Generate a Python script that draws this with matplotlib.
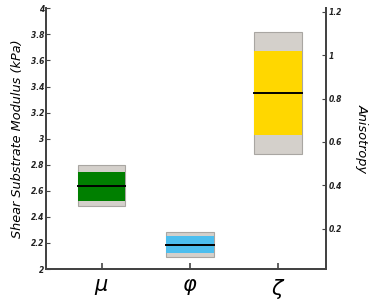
''' box-range chart: shear substrate modulus and anisotropy
'''
import matplotlib
import matplotlib.pyplot as plt
import matplotlib.ticker as mtick

matplotlib.use('Agg')

# categories and summary values (outer range, inner range, median)
labels = ['$\\mu$', '$\\varphi$', '$\\zeta$']
positions = [1, 2, 3]
outer_low = [2.48, 2.09, 0.543]
outer_high = [2.80, 2.283, 1.109]
inner_low = [2.525, 2.121, 0.631]
inner_high = [2.744, 2.252, 1.021]
medians = [2.636, 2.185, 0.826]
on_right = [False, False, True]
colors = ['#007f00', '#4dbeee', '#ffd700']

left_ticks = [2, 2.2, 2.4, 2.6, 2.8, 3, 3.2, 3.4, 3.6, 3.8, 4]
right_ticks = [0.2, 0.4, 0.6, 0.8, 1, 1.2]

BOX_WIDTH = 0.54
GREY = '#d4d0cb'
SPINE = '#444444'

fig = plt.figure(figsize=(3.81, 3.03), dpi=100)
ax = fig.add_axes([0.1207, 0.1122, 0.735, 0.8604])
ax2 = ax.twinx()

for pos, lo, hi, ilo, ihi, med, right, col in zip(
        positions, outer_low, outer_high, inner_low, inner_high,
        medians, on_right, colors):
    target = ax2 if right else ax
    target.bar(pos, hi - lo, BOX_WIDTH, bottom=lo, color=GREY,
               edgecolor='#a9a6a2', linewidth=0.8, zorder=2)
    target.bar(pos, ihi - ilo, BOX_WIDTH, bottom=ilo, color=col,
               edgecolor='none', linewidth=0, zorder=3)
    target.plot([pos - BOX_WIDTH / 2, pos + BOX_WIDTH / 2], [med, med],
                color='black', linewidth=1.4, zorder=4)

ax.set_xlim(0.37, 3.54)
ax.set_ylim(2, 4)
ax2.set_ylim(0.014, 1.216)

ax.set_xticks(positions)
ax.set_xticklabels(labels, fontsize=15)
ax.set_yticks(left_ticks)
ax.yaxis.set_major_formatter(mtick.FuncFormatter(lambda v, p: f'{v:g}'))
ax2.set_yticks(right_ticks)
ax2.yaxis.set_major_formatter(mtick.FuncFormatter(lambda v, p: f'{v:g}'))

for lab in ax.get_yticklabels() + ax2.get_yticklabels():
    lab.set_fontsize(5.5)
    lab.set_fontweight('bold')
    lab.set_fontstyle('italic')
    lab.set_color('#222222')

ax.tick_params(axis='y', direction='in', length=3, width=0.8, pad=1.5,
               colors=SPINE, labelcolor='#222222')
ax.tick_params(axis='x', direction='in', length=4, width=1.2, pad=6,
               colors=SPINE, labelcolor='black')
ax2.tick_params(axis='y', direction='in', length=3, width=0.8, pad=2,
                colors=SPINE, labelcolor='#222222')

ax.set_ylabel('Shear Substrate Modulus (kPa)', fontsize=9.3,
              fontstyle='italic', labelpad=5)
ax2.set_ylabel('Anisotropy', fontsize=9.3, fontstyle='italic',
               rotation=270, labelpad=19)

for a in (ax, ax2):
    a.spines['top'].set_visible(False)
    for s in ('left', 'right', 'bottom'):
        a.spines[s].set_color(SPINE)
        a.spines[s].set_linewidth(1.4)
    a.set_facecolor('none')

fig.savefig('out.png', dpi=100, facecolor='white')
plt.close()
